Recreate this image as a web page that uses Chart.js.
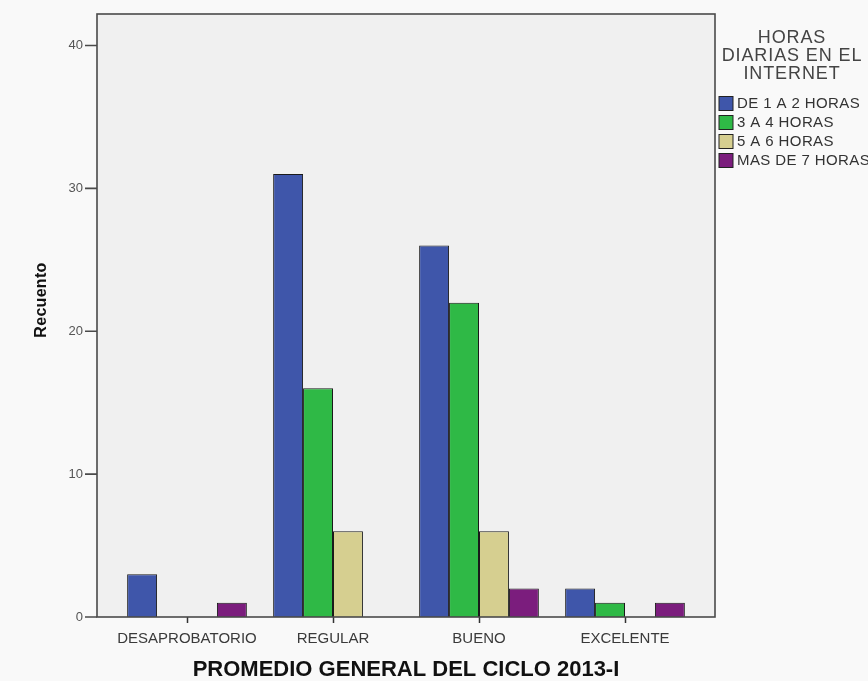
<!DOCTYPE html>
<html>
<head>
<meta charset="utf-8">
<script src="https://cdn.jsdelivr.net/npm/chart.js@4.4.1/dist/chart.umd.min.js"></script>
<style>
  html, body { margin: 0; background: #f9f9f9; }
  #wrap { width: 868px; height: 681px; }
</style>
</head>
<body>
<div id="wrap"><canvas id="grafico"></canvas></div>
<script>
const categorias = ["DESAPROBATORIO", "REGULAR", "BUENO", "EXCELENTE"];
const horas1a2 = [3, 31, 26, 2];
const horas3a4 = [0, 16, 22, 1];
const horas5a6 = [0, 6, 6, 0];
const horasMas7 = [1, 0, 2, 1];
const nombresSeries = ["DE 1 A 2 HORAS", "3 A 4 HORAS", "5 A 6 HORAS", "MAS DE 7 HORAS"];
const ticksY = [0, 10, 20, 30, 40];
const tituloLeyenda = ["HORAS", "DIARIAS EN EL", "INTERNET"];

const colores = ["#3f56aa", "#2fb946", "#d6cf90", "#7b1d7d"];
const FUENTE = '"Liberation Sans", Arial, sans-serif';
const EXTRA = 17; // el marco es mas ancho que las categorias

const marco = {
  id: "marco",
  beforeDraw(chart) {
    const { ctx, chartArea: a } = chart;
    ctx.save();
    ctx.fillStyle = "#f0f0f0";
    ctx.fillRect(a.left - EXTRA, a.top, a.right - a.left + 2 * EXTRA, a.bottom - a.top);
    ctx.restore();
  },
  afterDraw(chart) {
    const { ctx, chartArea: a, scales } = chart;
    ctx.save();
    ctx.strokeStyle = "#4a4a4a";
    ctx.lineWidth = 1.6;
    ctx.strokeRect(a.left - EXTRA, a.top, a.right - a.left + 2 * EXTRA, a.bottom - a.top);
    // marcas del eje y
    ctx.beginPath();
    ticksY.forEach(v => {
      const y = scales.y.getPixelForValue(v);
      ctx.moveTo(a.left - EXTRA - 12, y);
      ctx.lineTo(a.left - EXTRA, y);
    });
    ctx.stroke();

    // titulo del eje y
    ctx.save();
    ctx.translate(42, 300);
    ctx.rotate(-Math.PI / 2);
    ctx.fillStyle = "#111";
    ctx.font = "bold 16px " + FUENTE;
    ctx.letterSpacing = "0.3px";
    ctx.textAlign = "center";
    ctx.textBaseline = "middle";
    ctx.fillText("Recuento", 0, 0);
    ctx.restore();

    // leyenda
    ctx.fillStyle = "#444";
    ctx.font = "18px " + FUENTE;
    ctx.letterSpacing = "0.9px";
    ctx.textAlign = "center";
    ctx.textBaseline = "middle";
    tituloLeyenda.forEach((t, i) => ctx.fillText(t, 792, 38 + i * 18));
    ctx.letterSpacing = "0.4px";
    ctx.font = "15px " + FUENTE;
    ctx.textAlign = "left";
    chart.data.datasets.forEach((ds, i) => {
      const y = 103.5 + i * 19;
      ctx.fillStyle = ds.backgroundColor;
      ctx.fillRect(719, y - 7, 14, 14);
      ctx.strokeStyle = "#222";
      ctx.lineWidth = 1;
      ctx.strokeRect(719, y - 7, 14, 14);
      ctx.fillStyle = "#333";
      ctx.fillText(ds.label, 737, y);
    });
    ctx.restore();
  }
};

new Chart(document.getElementById("grafico"), {
  type: "bar",
  data: {
    labels: categorias,
    datasets: [horas1a2, horas3a4, horas5a6, horasMas7].map((d, i) => ({
      label: nombresSeries[i],
      data: d,
      backgroundColor: colores[i],
      borderColor: "#1a1a1a",
      borderWidth: 1,
      barPercentage: 1,
      categoryPercentage: 0.82,
    })),
  },
  options: {
    responsive: true,
    maintainAspectRatio: false,
    animation: false,
    layout: { padding: { top: 14, right: 170, left: 0, bottom: 0 } },
    plugins: { legend: { display: false }, tooltip: { enabled: false } },
    scales: {
      x: {
        afterFit(scale) { scale.height = 64; },
        border: { display: false },
        grid: { drawOnChartArea: false, offset: false, tickLength: 6, color: "#333", tickWidth: 1.5 },
        ticks: { color: "#3a3a3a", font: { size: 15, family: FUENTE }, padding: 7, maxRotation: 0 },
        title: {
          display: true,
          text: "PROMEDIO GENERAL DEL CICLO 2013-I",
          color: "#111",
          font: { size: 22, weight: "bold", family: FUENTE, lineHeight: 1 },
          padding: { top: 0, bottom: 0 },
        },
      },
      y: {
        min: 0,
        max: 42.2,
        afterFit(scale) { scale.width = 114; },
        afterBuildTicks(scale) { scale.ticks = ticksY.map(v => ({ value: v })); },
        border: { display: false },
        grid: { display: false, tickLength: 31 },
        ticks: { color: "#555", font: { size: 13, family: FUENTE }, padding: 0 },
      },
    },
  },
  plugins: [marco],
});
</script>
</body>
</html>
